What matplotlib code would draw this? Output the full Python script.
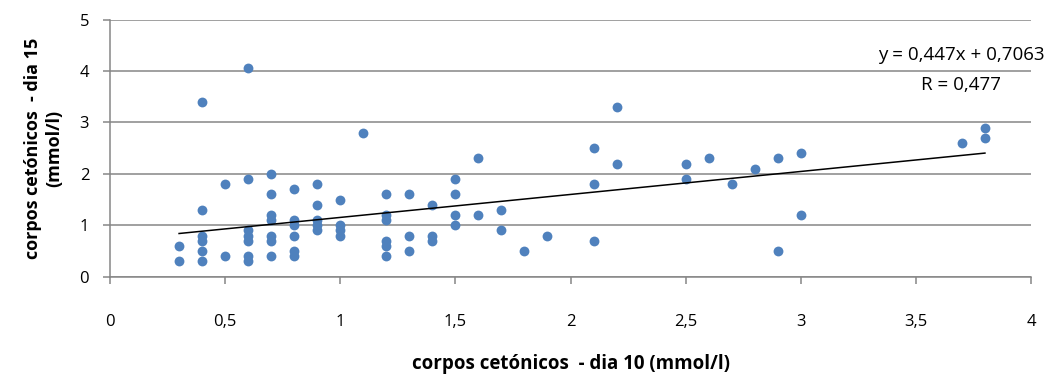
import matplotlib
matplotlib.use("Agg")
from matplotlib import pyplot as plt
import numpy as np

# dia 10 (x) and dia 15 (y) values
dia10 = [0.3, 0.3,
         0.4, 0.4, 0.4, 0.4, 0.4, 0.4,
         0.5, 0.5,
         0.6, 0.6, 0.6, 0.6, 0.6, 0.6, 0.6,
         0.7, 0.7, 0.7, 0.7, 0.7, 0.7, 0.7,
         0.8, 0.8, 0.8, 0.8, 0.8, 0.8,
         0.9, 0.9, 0.9, 0.9, 0.9,
         1.0, 1.0, 1.0, 1.0,
         1.1,
         1.2, 1.2, 1.2, 1.2, 1.2, 1.2,
         1.3, 1.3, 1.3,
         1.4, 1.4, 1.4,
         1.5, 1.5, 1.5, 1.5,
         1.6, 1.6,
         1.7, 1.7,
         1.8,
         1.9,
         2.1, 2.1, 2.1,
         2.2, 2.2,
         2.5, 2.5,
         2.6,
         2.7,
         2.8,
         2.9, 2.9,
         3.0, 3.0,
         3.7,
         3.8, 3.8]
dia15 = [0.6, 0.3,
         3.4, 1.3, 0.8, 0.7, 0.5, 0.3,
         1.8, 0.4,
         4.07, 1.9, 0.9, 0.8, 0.7, 0.4, 0.3,
         2.0, 1.6, 1.2, 1.1, 0.8, 0.7, 0.4,
         1.7, 1.1, 1.0, 0.8, 0.5, 0.4,
         1.8, 1.4, 1.1, 1.0, 0.9,
         1.5, 1.0, 0.9, 0.8,
         2.8,
         1.6, 1.2, 1.1, 0.7, 0.6, 0.4,
         1.6, 0.8, 0.5,
         1.4, 0.8, 0.7,
         1.9, 1.6, 1.2, 1.0,
         2.3, 1.2,
         1.3, 0.9,
         0.5,
         0.8,
         2.5, 1.8, 0.7,
         3.3, 2.2,
         2.2, 1.9,
         2.3,
         1.8,
         2.1,
         2.3, 0.5,
         2.4, 1.2,
         2.6,
         2.9, 2.7]

# trendline printed on the chart
slope = 0.447
intercept = 0.7063
r_value = "0,477"

xticks = [0, 0.5, 1, 1.5, 2, 2.5, 3, 3.5, 4]
yticks = [0, 1, 2, 3, 4, 5]

plt.rcParams['font.family'] = ['Open Sans', 'DejaVu Sans']
grey = '#868686'

fig = plt.figure(figsize=(10.59, 3.79), dpi=100)
ax = fig.add_axes([110 / 1059, 1 - 276.7 / 379, 921 / 1059, 257 / 379])

ax.set_xlim(0, 4)
ax.set_ylim(0, 5)
ax.set_xticks(xticks)
ax.set_xticklabels([str(t).replace('.', ',') for t in xticks])
ax.set_yticks(yticks)
ax.set_yticklabels([str(t) for t in yticks])

ax.grid(axis='y', color=grey, linewidth=1.1)
ax.set_axisbelow(True)
for side in ['top', 'right']:
  ax.spines[side].set_visible(False)
for side in ['left', 'bottom']:
  ax.spines[side].set_color(grey)
  ax.spines[side].set_linewidth(1.1)
ax.tick_params(axis='x', direction='out', length=5, width=1.1, color=grey, pad=22, labelsize=12)
ax.tick_params(axis='y', direction='out', length=5, width=1.1, color=grey, pad=10, labelsize=12)

ax.scatter(dia10, dia15, s=50, color='#4F81BD', zorder=3, linewidths=0)

xl = np.array([min(dia10), max(dia10)])
ax.plot(xl, slope * xl + intercept, color='black', linewidth=1.1, zorder=4)

fig.text(961 / 1059, 1 - 55 / 379, "y = 0,447x + 0,7063", ha='center', va='center', fontsize=13.5)
fig.text(961 / 1059, 1 - 85 / 379, "R = " + r_value, ha='center', va='center', fontsize=13.5)

ax.set_xlabel("corpos cetónicos  - dia 10 (mmol/l)", fontsize=13.5, fontweight='bold', labelpad=17)
ax.set_ylabel("corpos cetónicos  - dia 15\n(mmol/l)", fontsize=13, fontweight='bold', labelpad=12)

fig.savefig("out.png", dpi=100)
